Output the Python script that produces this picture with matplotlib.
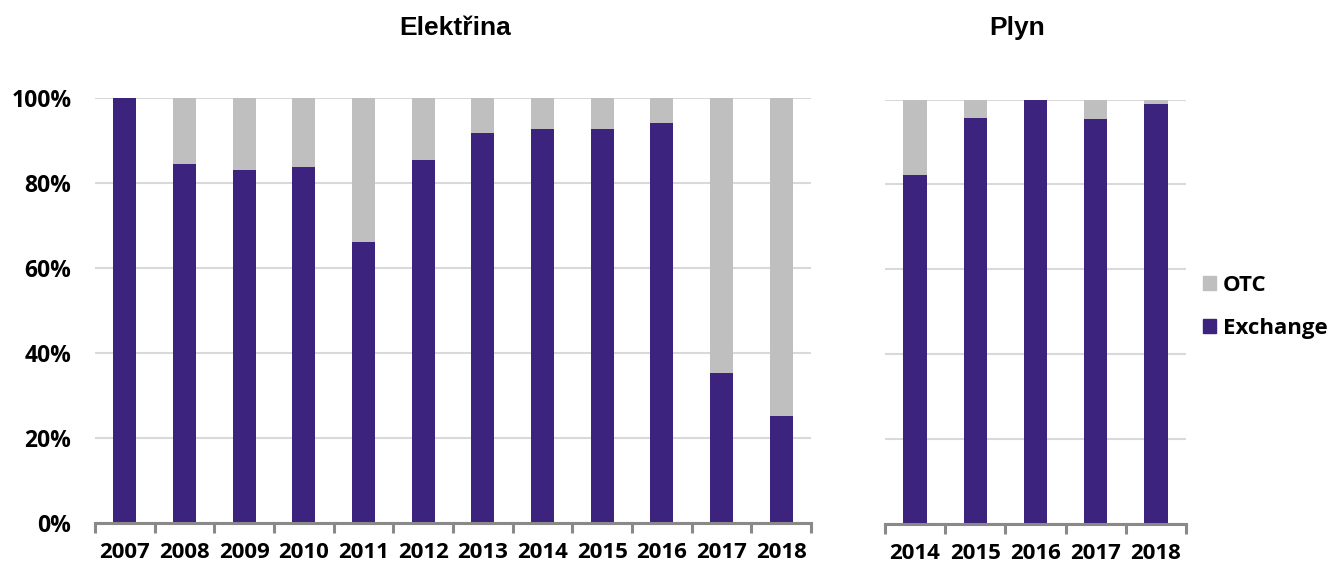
import matplotlib
matplotlib.use("Agg")
import matplotlib.pyplot as plt
from matplotlib.patches import Patch
import numpy as np

# ---- data ----
elec_years = ["2007", "2008", "2009", "2010", "2011", "2012", "2013", "2014", "2015", "2016", "2017", "2018"]
elec_exchange = [100.0, 84.4, 83.0, 83.7, 66.0, 85.3, 91.7, 92.8, 92.8, 94.1, 35.3, 25.1]
elec_otc = [100 - v for v in elec_exchange]

gas_years = ["2014", "2015", "2016", "2017", "2018"]
gas_exchange = [82.1, 95.6, 100.0, 95.4, 98.9]
gas_otc = [100 - v for v in gas_exchange]

y_ticks = [0, 20, 40, 60, 80, 100]
y_labels = ["0%", "20%", "40%", "60%", "80%", "100%"]

titles = ["Elektřina", "Plyn"]
series_names = ["Exchange", "OTC"]

PURPLE = "#3C237E"
GRAY = "#BFBFBF"
GRID = "#D9D9D9"
SPINE = "#898989"

W, H = 1332, 568
fig = plt.figure(figsize=(W / 100, H / 100), dpi=100)

tick_font = dict(family=["Open Sans", "DejaVu Sans"], weight="bold", size=16.5)
xtick_font = dict(family=["Open Sans", "DejaVu Sans"], weight="bold", size=16)

def px_axes(x0, x1, y_bottom, y_top):
    return fig.add_axes([x0 / W, (H - y_bottom) / H, (x1 - x0) / W, (y_bottom - y_top) / H])

ax1 = px_axes(95, 811, 522.5, 98)
ax2 = px_axes(885, 1186, 524, 99.5)

def draw(ax, years, exch, otc, show_y):
    x = np.arange(len(years))
    ax.bar(x, exch, width=0.39, color=PURPLE, linewidth=0, zorder=3)
    ax.bar(x, otc, bottom=exch, width=0.39, color=GRAY, linewidth=0, zorder=3)
    ax.set_xlim(-0.5, len(years) - 0.5)
    ax.set_ylim(0, 100)
    ax.set_yticks(y_ticks)
    ax.yaxis.grid(True, color=GRID, linewidth=1.5, zorder=0)
    ax.set_axisbelow(True)
    for s in ["left", "right", "top"]:
        ax.spines[s].set_visible(False)
    ax.spines["bottom"].set_color(SPINE)
    ax.spines["bottom"].set_linewidth(2.2)
    ax.spines["bottom"].set_zorder(4)
    ax.set_xticks(x)
    ax.set_xticklabels(years, **xtick_font)
    ax.tick_params(axis="x", which="major", length=0, pad=14)
    ax.set_xticks(np.arange(-0.5, len(years)), minor=True)
    ax.tick_params(axis="x", which="minor", length=7, width=2.2, color=SPINE, direction="out")
    if show_y:
        ax.set_yticklabels(y_labels, **tick_font)
        ax.tick_params(axis="y", length=0, pad=17)
    else:
        ax.tick_params(axis="y", length=0, labelleft=False)

draw(ax1, elec_years, elec_exchange, elec_otc, True)
draw(ax2, gas_years, gas_exchange, gas_otc, False)

title_font = dict(family=["Liberation Sans", "DejaVu Sans"], weight="bold", size=19)
fig.text(455 / W, 1 - 28 / H, titles[0], ha="center", va="center", **title_font)
fig.text(1017 / W, 1 - 28 / H, titles[1], ha="center", va="center", **title_font)

handles = [Patch(color=GRAY, label=series_names[1]), Patch(color=PURPLE, label=series_names[0])]
fig.legend(handles=handles, loc="center left", bbox_to_anchor=(1203 / W, 1 - 307 / H),
           frameon=False, prop=dict(family=["Open Sans", "DejaVu Sans"], weight="bold", size=16),
           handlelength=0.6, handleheight=0.6, handletextpad=0.3, labelspacing=1.0,
           borderaxespad=0, borderpad=0)

fig.savefig("out.png", dpi=100)
